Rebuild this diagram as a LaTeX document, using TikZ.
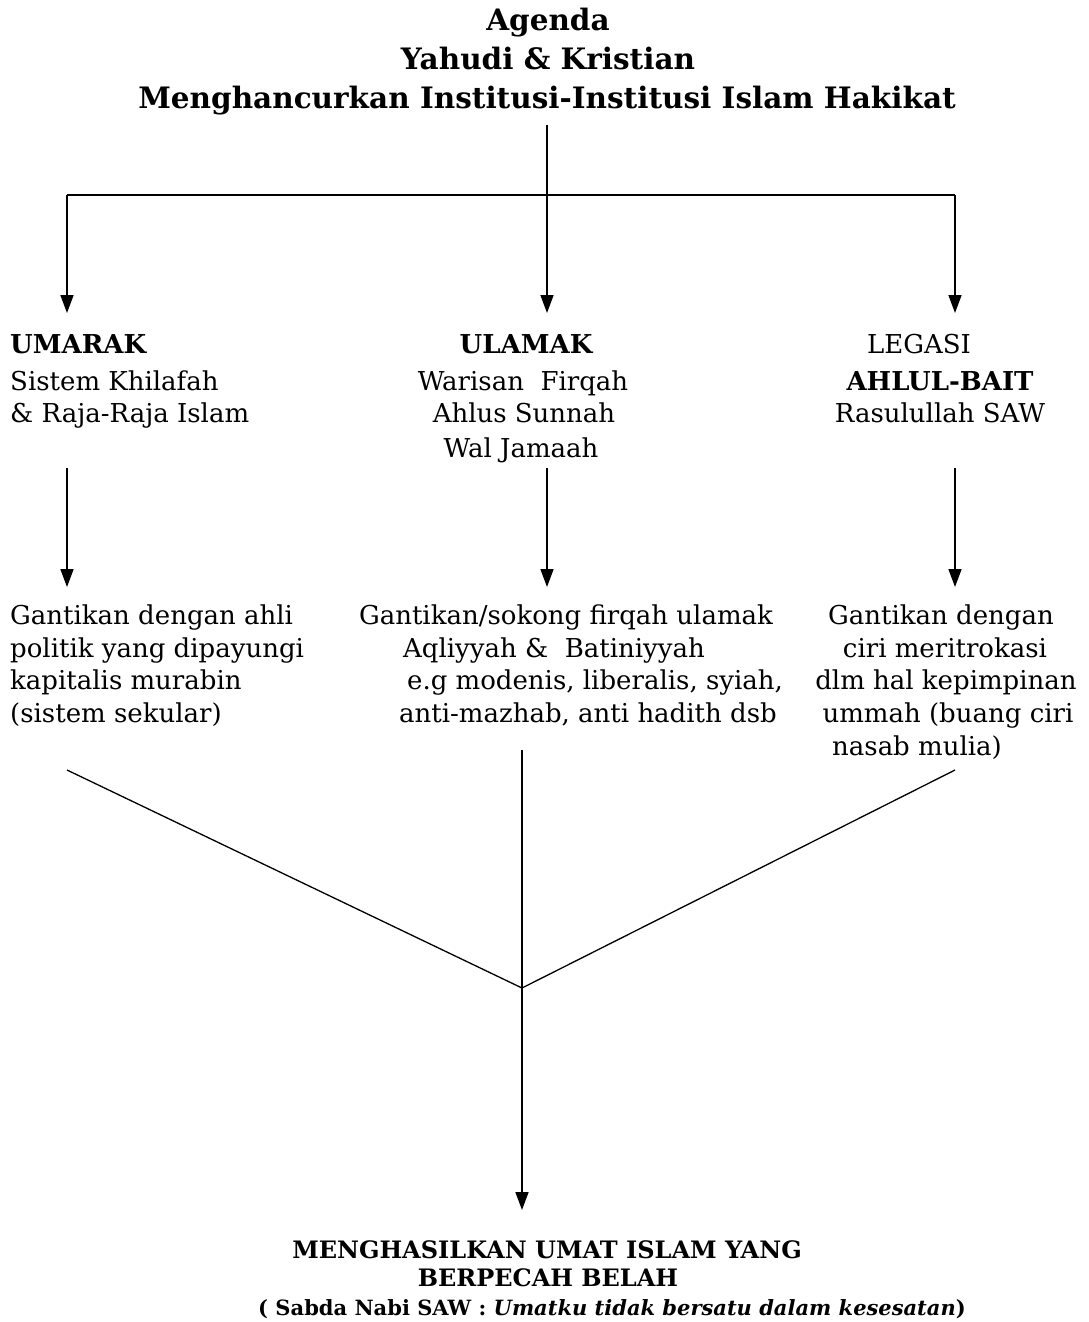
\documentclass[tikz,border=0pt]{standalone}
\usepackage{fontspec}
\setmainfont{DejaVu Serif}
\usetikzlibrary{arrows.meta}
\begin{document}
\begin{tikzpicture}[x=1pt,y=-1pt,
  txt/.style={inner sep=0pt, anchor=base, font=\fontsize{26}{32}\selectfont},
  txtl/.style={txt, anchor=base west},
  btxt/.style={inner sep=0pt, anchor=base, font=\fontsize{26}{32}\selectfont\bfseries},
  ttl/.style={inner sep=0pt, anchor=base, font=\fontsize{29.5}{37}\selectfont\bfseries},
  bot/.style={inner sep=0pt, anchor=base, font=\fontsize{24}{28}\selectfont\bfseries},
  bots/.style={inner sep=0pt, anchor=base, font=\fontsize{21}{28}\selectfont\bfseries},
  arr/.style={line width=1.6pt, -{Triangle[length=18pt,width=13pt]}},
  ln/.style={line width=1.3pt}]
\useasboundingbox (0,0) rectangle (1088,1322);
% title
\node[ttl] (t1) at (548,31) {Agenda};
\node[ttl] (t2) at (548,70) {Yahudi \& Kristian};
\node[ttl] (t3) at (547,108) {Menghancurkan Institusi-Institusi Islam Hakikat};
% branch coordinates
\coordinate (top) at (547,125);
\coordinate (hc) at (547,195);
\coordinate (hl) at (67,195);
\coordinate (hr) at (955,195);
\coordinate (al) at (67,313);
\coordinate (am) at (547,313);
\coordinate (ar) at (955,313);
\draw[ln] (top) -- (hc);
\draw[ln] (hl) -- (hr);
\draw[arr] (hl) -- (al);
\draw[arr] (hc) -- (am);
\draw[arr] (hr) -- (ar);
% headers
\node[btxt, anchor=base west] (u1) at (10,353) {UMARAK};
\node[txtl] (u2) at (10,390) {Sistem Khilafah};
\node[txtl] (u3) at (10,422) {\& Raja-Raja Islam};
\node[btxt] (m1) at (526,353) {ULAMAK};
\node[txt] (m2) at (523,390) {Warisan\ \ Firqah};
\node[txt] (m3) at (524,422) {Ahlus Sunnah};
\node[txt] (m4) at (521,457) {Wal Jamaah};
\node[txt] (r1) at (919,353) {LEGASI};
\node[btxt] (r2) at (940,390) {AHLUL-BAIT};
\node[txt] (r3) at (940,422) {Rasulullah SAW};
% second arrows
\coordinate (sl) at (67,468);
\coordinate (sm) at (547,468);
\coordinate (sr) at (955,468);
\coordinate (el) at (67,587);
\coordinate (em) at (547,587);
\coordinate (er) at (955,587);
\draw[arr] (sl) -- (el);
\draw[arr] (sm) -- (em);
\draw[arr] (sr) -- (er);
% lower texts
\node[txtl] (g1) at (10,624) {Gantikan dengan ahli};
\node[txtl] (g2) at (10,657) {politik yang dipayungi};
\node[txtl] (g3) at (10,689) {kapitalis murabin};
\node[txtl] (g4) at (10,722) {(sistem sekular)};
\node[txt] (h1) at (566,624) {Gantikan/sokong firqah ulamak};
\node[txt] (h2) at (554,657) {Aqliyyah \&\ \ Batiniyyah};
\node[txt] (h3) at (595,689) {e.g modenis, liberalis, syiah,};
\node[txt] (h4) at (588,722) {anti-mazhab, anti hadith dsb};
\node[txt] (k1) at (941,624) {Gantikan dengan};
\node[txt] (k2) at (945,657) {ciri meritrokasi};
\node[txt] (k3) at (946,689) {dlm hal kepimpinan};
\node[txt] (k4) at (948,722) {ummah (buang ciri};
\node[txt] (k5) at (917,755) {nasab mulia)};
% converging lines
\coordinate (cl) at (67,770);
\coordinate (cm) at (522,750);
\coordinate (cr) at (955,770);
\coordinate (join) at (522,988);
\coordinate (fin) at (522,1210);
\draw[ln] (cl) -- (join);
\draw[ln] (cr) -- (join);
\draw[ln] (cm) -- (join);
\draw[arr] (join) -- (fin);
% bottom
\node[bot] (b1) at (547,1258) {MENGHASILKAN UMAT ISLAM YANG};
\node[bot] (b2) at (548,1286) {BERPECAH BELAH};
\node[bots] (b3) at (612,1315) {( Sabda Nabi SAW : \textit{Umatku tidak bersatu dalam kesesatan})};
\end{tikzpicture}
\end{document}
